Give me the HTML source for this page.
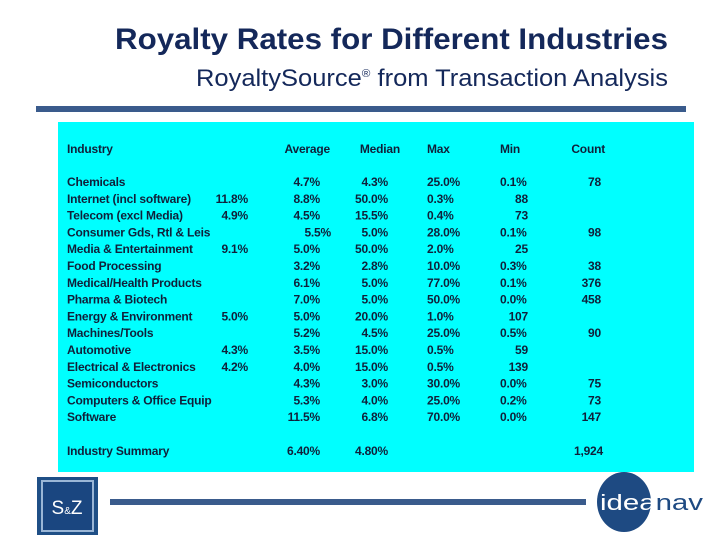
<!DOCTYPE html>
<html><head><meta charset="utf-8"><style>
html,body{margin:0;padding:0;background:#fff;}
svg{display:block;}
text{font-family:"Liberation Sans",sans-serif;}
.t{font-size:12px;font-weight:bold;fill:#10203a;letter-spacing:-0.2px;}
</style></head><body>
<svg id="s" width="720" height="540" viewBox="0 0 720 540">
<text x="668" y="49" text-anchor="end" font-size="30" font-weight="bold" fill="#14285a" textLength="553" lengthAdjust="spacingAndGlyphs">Royalty Rates for Different Industries</text>
<text x="668" y="86" text-anchor="end" font-size="24" fill="#14285a" textLength="472" lengthAdjust="spacingAndGlyphs">RoyaltySource<tspan font-size="11" dy="-9">®</tspan><tspan dy="9">  from Transaction Analysis</tspan></text>
<rect x="36" y="106" width="650" height="6" fill="#3a5b8c"/>
<rect x="58" y="122" width="636" height="350" fill="#00ffff"/>
<g id="tbl"></g>
<g>
<rect x="37" y="477" width="61" height="58" fill="#1f4f86"/>
<rect x="42" y="481" width="51" height="50" fill="#1a4680" stroke="#9ab6d6" stroke-width="2"/>
<text x="67" y="514" text-anchor="middle" font-size="19" fill="#fff">S<tspan font-size="10">&amp;</tspan>Z</text>
</g>
<rect x="110" y="499" width="476" height="6" fill="#3a5b8c"/>
<g>
<ellipse cx="624" cy="502" rx="27" ry="30" fill="#1e4a82"/>
<text x="600" y="510" font-size="22" fill="#fff" textLength="103" lengthAdjust="spacingAndGlyphs">idea<tspan fill="#1e4a82">nav</tspan></text>
</g>
</svg>
<script>
const industries=["Chemicals","Internet (incl software)","Telecom (excl Media)","Consumer Gds, Rtl & Leis","Media & Entertainment","Food Processing","Medical/Health Products","Pharma & Biotech","Energy & Environment","Machines/Tools","Automotive","Electrical & Electronics","Semiconductors","Computers & Office Equip","Software"];
const extra=["","11.8%","4.9%","","9.1%","","","","5.0%","","4.3%","4.2%","","",""];
const average=["4.7%","8.8%","4.5%","5.5%","5.0%","3.2%","6.1%","7.0%","5.0%","5.2%","3.5%","4.0%","4.3%","5.3%","11.5%"];
const median=["4.3%","50.0%","15.5%","5.0%","50.0%","2.8%","5.0%","5.0%","20.0%","4.5%","15.0%","15.0%","3.0%","4.0%","6.8%"];
const maxv=["25.0%","0.3%","0.4%","28.0%","2.0%","10.0%","77.0%","50.0%","1.0%","25.0%","0.5%","0.5%","30.0%","25.0%","70.0%"];
const minv=["0.1%","88","73","0.1%","25","0.3%","0.1%","0.0%","107","0.5%","59","139","0.0%","0.2%","0.0%"];
const count=["78","","","98","","38","376","458","","90","","","75","73","147"];
const headers=["Industry","Average","Median","Max","Min","Count"];
const summary=["Industry Summary","6.40%","4.80%","","","1,924"];
const g=document.getElementById('tbl');
const NS="http://www.w3.org/2000/svg";
function txt(x,y,s,anchor,name){
  const t=document.createElementNS(NS,'text');
  t.setAttribute('x',x);t.setAttribute('y',y);t.setAttribute('class','t');
  if(anchor)t.setAttribute('text-anchor',anchor);
  t.textContent=s;
  
  
  g.appendChild(t);
}
const hx=[[67,null],[330,'end'],[400,'end'],[427,null],[500,null],[605,'end']];
headers.forEach((h,i)=>txt(hx[i][0],153,h,hx[i][1],'header-'+h.toLowerCase()));
const y0=186,step=16.8;
industries.forEach((name,i)=>{
  const y=y0+i*step;
  txt(67,y,name,null,'industry-label');
  if(extra[i])txt(248,y,extra[i],'end','extra-value');
  txt(average[i]==="5.5%"?331:320,y,average[i],'end','average-value');
  txt(388,y,median[i],'end','median-value');
  txt(427,y,maxv[i],null,'max-value');
  if(minv[i].indexOf('%')>=0)txt(500,y,minv[i],null,'min-value');
  else txt(528,y,minv[i],'end','min-value');
  if(count[i])txt(601,y,count[i],'end','count-value');
});
txt(67,455,summary[0],null,'summary-label');
txt(320,455,summary[1],'end','summary-average');
txt(388,455,summary[2],'end','summary-median');
txt(603,455,summary[5],'end','summary-count');
</script>
</body></html>
